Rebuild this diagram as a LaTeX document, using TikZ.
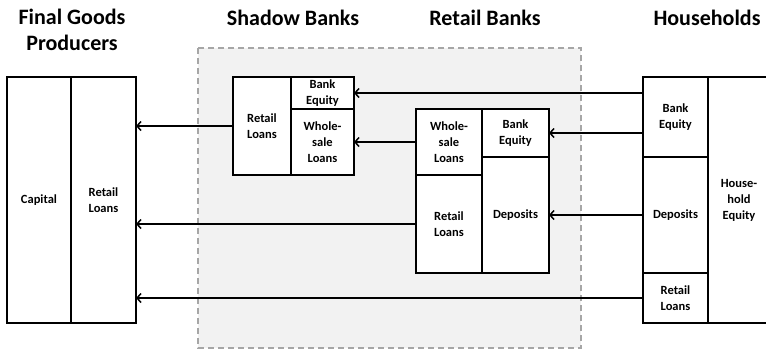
\documentclass[tikz,border=0pt]{standalone}
\usepackage{fontspec}
\setmainfont{Carlito}
\usetikzlibrary{arrows.meta}
\definecolor{bgfill}{HTML}{F2F2F2}
\definecolor{dashgray}{HTML}{A6A6A6}
\tikzset{
  cell/.style={draw=black, line width=2pt, fill=white, inner sep=1pt, outer sep=0pt,
    font=\bfseries\fontsize{12.5}{16}\selectfont, align=center},
  title/.style={font=\bfseries\fontsize{22}{26}\selectfont, align=center, inner sep=0pt},
  flow/.style={line width=1.5pt, -{Straight Barb[length=4pt,width=9pt,line width=1.5pt]}},
  sector/.style={draw=dashgray, line width=1.8pt, dash pattern=on 6pt off 4pt, fill=bgfill}
}
\begin{document}
\begin{tikzpicture}[x=1pt,y=-1pt]
\useasboundingbox (0,0) rectangle (766,349);
% dashed sector box
\draw[sector] (198,48) rectangle (581,348);
% titles
\node[title] (tF) at (72,30) {Final Goods\\Producers};
\node[title] (tS) at (293,18) {Shadow Banks};
\node[title] (tR) at (485,18) {Retail Banks};
\node[title] (tH) at (707,18) {Households};
% final goods producers
\node[cell, minimum width=64pt, minimum height=246pt] (fCap) at (39,200) {Capital};
\node[cell, minimum width=65pt, minimum height=246pt] (fRL) at (103.5,200) {Retail\\Loans};
% shadow banks
\node[cell, minimum width=58pt, minimum height=98pt] (sRL) at (262,126) {Retail\\Loans};
\node[cell, minimum width=63pt, minimum height=32pt] (sBE) at (322.5,93) {Bank\\Equity};
\node[cell, minimum width=63pt, minimum height=66pt] (sWS) at (322.5,142) {Whole-\\sale\\Loans};
% retail banks
\node[cell, minimum width=66pt, minimum height=66pt] (rWS) at (449,142) {Whole-\\sale\\Loans};
\node[cell, minimum width=66pt, minimum height=98pt] (rRL) at (449,224) {Retail\\Loans};
\node[cell, minimum width=67pt, minimum height=48pt] (rBE) at (515.5,133) {Bank\\Equity};
\node[cell, minimum width=67pt, minimum height=116pt] (rDep) at (515.5,215) {Deposits};
% households
\node[cell, minimum width=65pt, minimum height=80pt] (hBE) at (675.5,117) {Bank\\Equity};
\node[cell, minimum width=65pt, minimum height=116pt] (hDep) at (675.5,215) {Deposits};
\node[cell, minimum width=65pt, minimum height=50pt] (hRL) at (675.5,298) {Retail\\Loans};
\node[cell, minimum width=62pt, minimum height=246pt] (hHE) at (739,200) {House-\\hold\\Equity};
% flows
\draw[flow] (hBE.west |- sBE.east) -- (sBE.east);
\draw[flow] (hBE.west |- rBE.east) -- (rBE.east);
\draw[flow] (hDep.west) -- (rDep.east);
\draw[flow] (hRL.west) -- (hRL.west -| fRL.east);
\draw[flow] (sRL.west) -- (sRL.west -| fRL.east);
\draw[flow] (rWS.west) -- (sWS.east);
\draw[flow] (rRL.west) -- (rRL.west -| fRL.east);
\end{tikzpicture}
\end{document}
